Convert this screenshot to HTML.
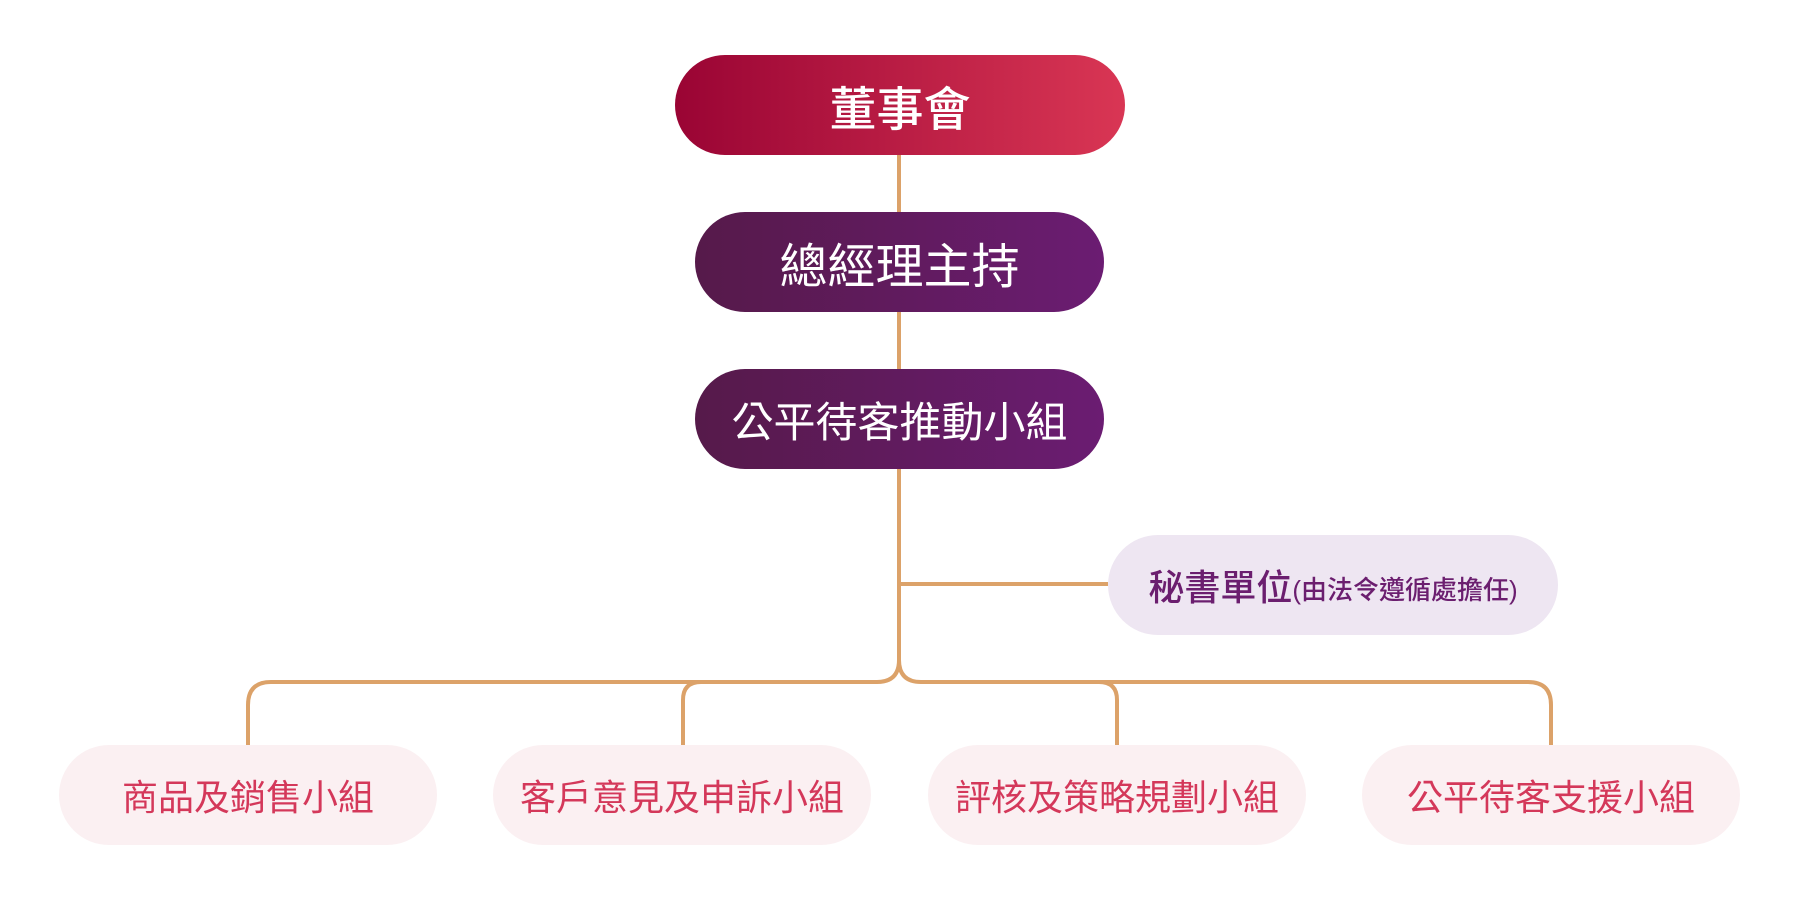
<!DOCTYPE html>
<html><head><meta charset="utf-8"><style>
html,body{margin:0;padding:0;background:#fff;}
body{width:1800px;height:901px;position:relative;overflow:hidden;font-family:"Liberation Sans","Noto Sans CJK TC",sans-serif;}
.b{position:absolute;display:flex;align-items:center;justify-content:center;border-radius:50px;height:100px;white-space:nowrap;}
.top{left:675px;top:55px;width:450px;background:linear-gradient(90deg,#9a0434,#d93654);color:#fff;font-size:47px;font-weight:500;}
.p{left:695px;width:409px;background:linear-gradient(90deg,#561a4a,#6b1c72);color:#fff;}
.s{left:1108px;top:535px;width:450px;background:#eee6f2;color:#6b1e6f;font-size:36px;font-weight:500;}
.s small{font-size:26px;margin-top:6px;}
.bt{top:745px;width:378px;background:#fbf0f2;color:#d4385a;font-size:36px;}
</style></head><body>
<svg width="1800" height="901" style="position:absolute;left:0;top:0" fill="none" stroke="#dca269" stroke-width="4">
<path d="M899 155V660q0 22-22 22H271q-23 0-23 23V745"/>
<path d="M899 660q0 22 22 22H1528q23 0 23 23V745"/>
<path d="M899 584H1108"/>
<path d="M683 745V700q0-18 18-18"/>
<path d="M1117 745V700q0-18-18-18"/>
</svg>
<div class="b top">董事會</div>
<div class="b p" style="top:212px;font-size:48px">總經理主持</div>
<div class="b p" style="top:369px;font-size:42px">公平待客推動小組</div>
<div class="b s">秘書單位<small>(由法令遵循處擔任)</small></div>
<div class="b bt" style="left:59px">商品及銷售小組</div>
<div class="b bt" style="left:493px">客戶意見及申訴小組</div>
<div class="b bt" style="left:928px">評核及策略規劃小組</div>
<div class="b bt" style="left:1362px">公平待客支援小組</div>
</body></html>
